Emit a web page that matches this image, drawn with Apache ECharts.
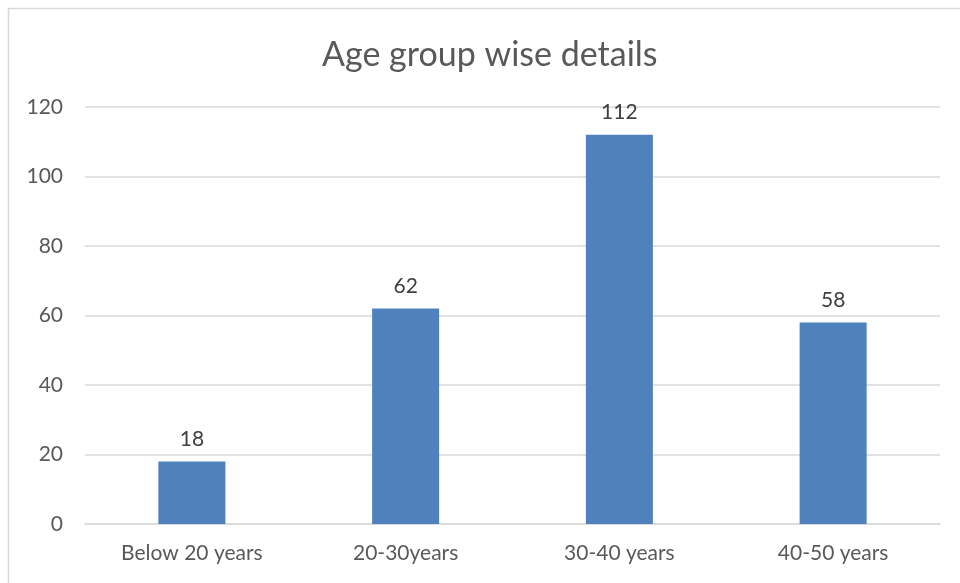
<!DOCTYPE html>
<html>
<head>
<meta charset="utf-8">
<script src="https://cdn.jsdelivr.net/npm/echarts@6/dist/echarts.min.js"></script>
<style>
  html, body { margin: 0; padding: 0; background: #fff; }
  #chart { width: 960px; height: 583px; }
</style>
</head>
<body>
<div id="chart"></div>
<script>
// data
const categories = ["Below 20 years", "20-30years", "30-40 years", "40-50 years"];
const counts = [18, 62, 112, 58];
const yTicks = { min: 0, max: 120, interval: 20 };

const textColor = "#595959";
const fontName = "Lato, 'Open Sans', sans-serif";

let myChart = echarts.init(document.getElementById("chart"));
myChart.setOption({
  animation: false,
  backgroundColor: "#fff",
  graphic: [{
    type: "rect",
    shape: { x: 8.5, y: 8.5, width: 1000, height: 700 },
    style: { fill: "none", stroke: "#d9d9d9", lineWidth: 1.5 },
    silent: true
  }],
  title: {
    text: "Age group wise details",
    left: 317,
    top: 33,
    textStyle: { color: textColor, fontSize: 34, fontWeight: "normal", fontFamily: fontName }
  },
  grid: { left: 85, right: 20, top: 107, bottom: 59, containLabel: false },
  xAxis: {
    type: "category",
    data: categories,
    axisLine: { lineStyle: { color: "#d9d9d9", width: 1.5 } },
    axisTick: { show: false },
    axisLabel: { color: textColor, fontSize: 21, fontFamily: fontName, margin: 19 }
  },
  yAxis: {
    type: "value",
    min: yTicks.min,
    max: yTicks.max,
    interval: yTicks.interval,
    axisLine: { show: false },
    axisTick: { show: false },
    splitLine: { lineStyle: { color: "#d9d9d9", width: 1.5 } },
    axisLabel: { color: textColor, fontSize: 21, fontFamily: fontName, margin: 22 }
  },
  series: [{
    type: "bar",
    data: counts,
    barWidth: 67,
    itemStyle: { color: "#4f81bd" },
    label: {
      show: true,
      position: "top",
      distance: 12,
      color: "#404040",
      fontSize: 21,
      fontFamily: fontName
    }
  }]
});
</script>
</body>
</html>
